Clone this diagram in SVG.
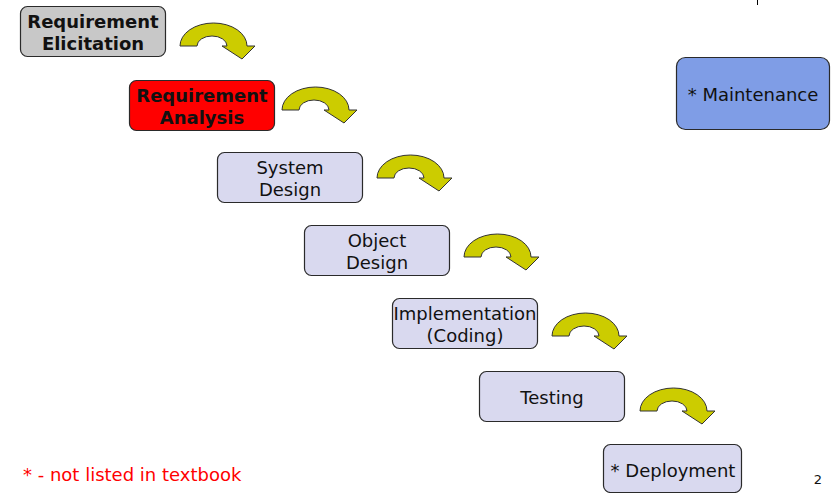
<svg xmlns="http://www.w3.org/2000/svg" width="838" height="493" viewBox="0 0 838 493">
<defs>
<style>
.box{stroke:#2a2a2a;stroke-width:1.2}
.gray{fill:#c8c8c8}
.red{fill:#ff0000}
.lav{fill:#d9d9ef}
.blue{fill:#7f9de6}
text{font-family:"DejaVu Sans",Verdana,sans-serif;font-size:18px;fill:#111;text-anchor:middle}
.b{font-weight:bold}
.arr{fill:#cccc00;stroke:#333;stroke-width:1}
</style>
<path id="curl" d="M0,0 A33.5,23 0 0 1 67,0 L75,0 L62,13 L42,0 L47,0 A15,10 0 0 0 17,0 Z"/>
</defs>
<rect width="838" height="493" fill="#fff"/>
<line x1="757.5" y1="0" x2="757.5" y2="5" stroke="#000" stroke-width="1"/>
<g id="connectors">
<use href="#curl" class="arr" x="180" y="46"/>
<use href="#curl" class="arr" x="282" y="110"/>
<use href="#curl" class="arr" x="377" y="178"/>
<use href="#curl" class="arr" x="464" y="257"/>
<use href="#curl" class="arr" x="552" y="336"/>
<use href="#curl" class="arr" x="640" y="411"/>
</g>
<g id="n-elicitation">
<rect class="box gray" x="20.5" y="6.5" width="145" height="50" rx="7"/>
<text class="b" x="93" y="28">Requirement</text>
<text class="b" x="93" y="50">Elicitation</text>
</g>
<g id="n-analysis">
<rect class="box red" x="129.5" y="80.5" width="145" height="50" rx="7"/>
<text class="b" x="202" y="102">Requirement</text>
<text class="b" x="202" y="124">Analysis</text>
</g>
<g id="n-system">
<rect class="box lav" x="217.5" y="152.5" width="145" height="50" rx="7"/>
<text x="290" y="174">System</text>
<text x="290" y="196">Design</text>
</g>
<g id="n-object">
<rect class="box lav" x="304.5" y="225.5" width="145" height="50" rx="7"/>
<text x="377" y="247">Object</text>
<text x="377" y="269">Design</text>
</g>
<g id="n-impl">
<rect class="box lav" x="392.5" y="298.5" width="145" height="50" rx="7"/>
<text x="465" y="320">Implementation</text>
<text x="465" y="342">(Coding)</text>
</g>
<g id="n-testing">
<rect class="box lav" x="479.5" y="371.5" width="145" height="50" rx="7"/>
<text x="552" y="404">Testing</text>
</g>
<g id="n-deployment">
<rect class="box lav" x="603.5" y="444.5" width="138" height="48" rx="7"/>
<text x="673" y="477">* Deployment</text>
</g>
<g id="n-maintenance">
<rect class="box blue" x="676.5" y="57.5" width="153" height="72" rx="9"/>
<text x="753" y="101">* Maintenance</text>
</g>
<text x="23" y="481" style="fill:#ff0000;text-anchor:start">* - not listed in textbook</text>
<text x="818" y="484" style="font-size:13px">2</text>
</svg>
